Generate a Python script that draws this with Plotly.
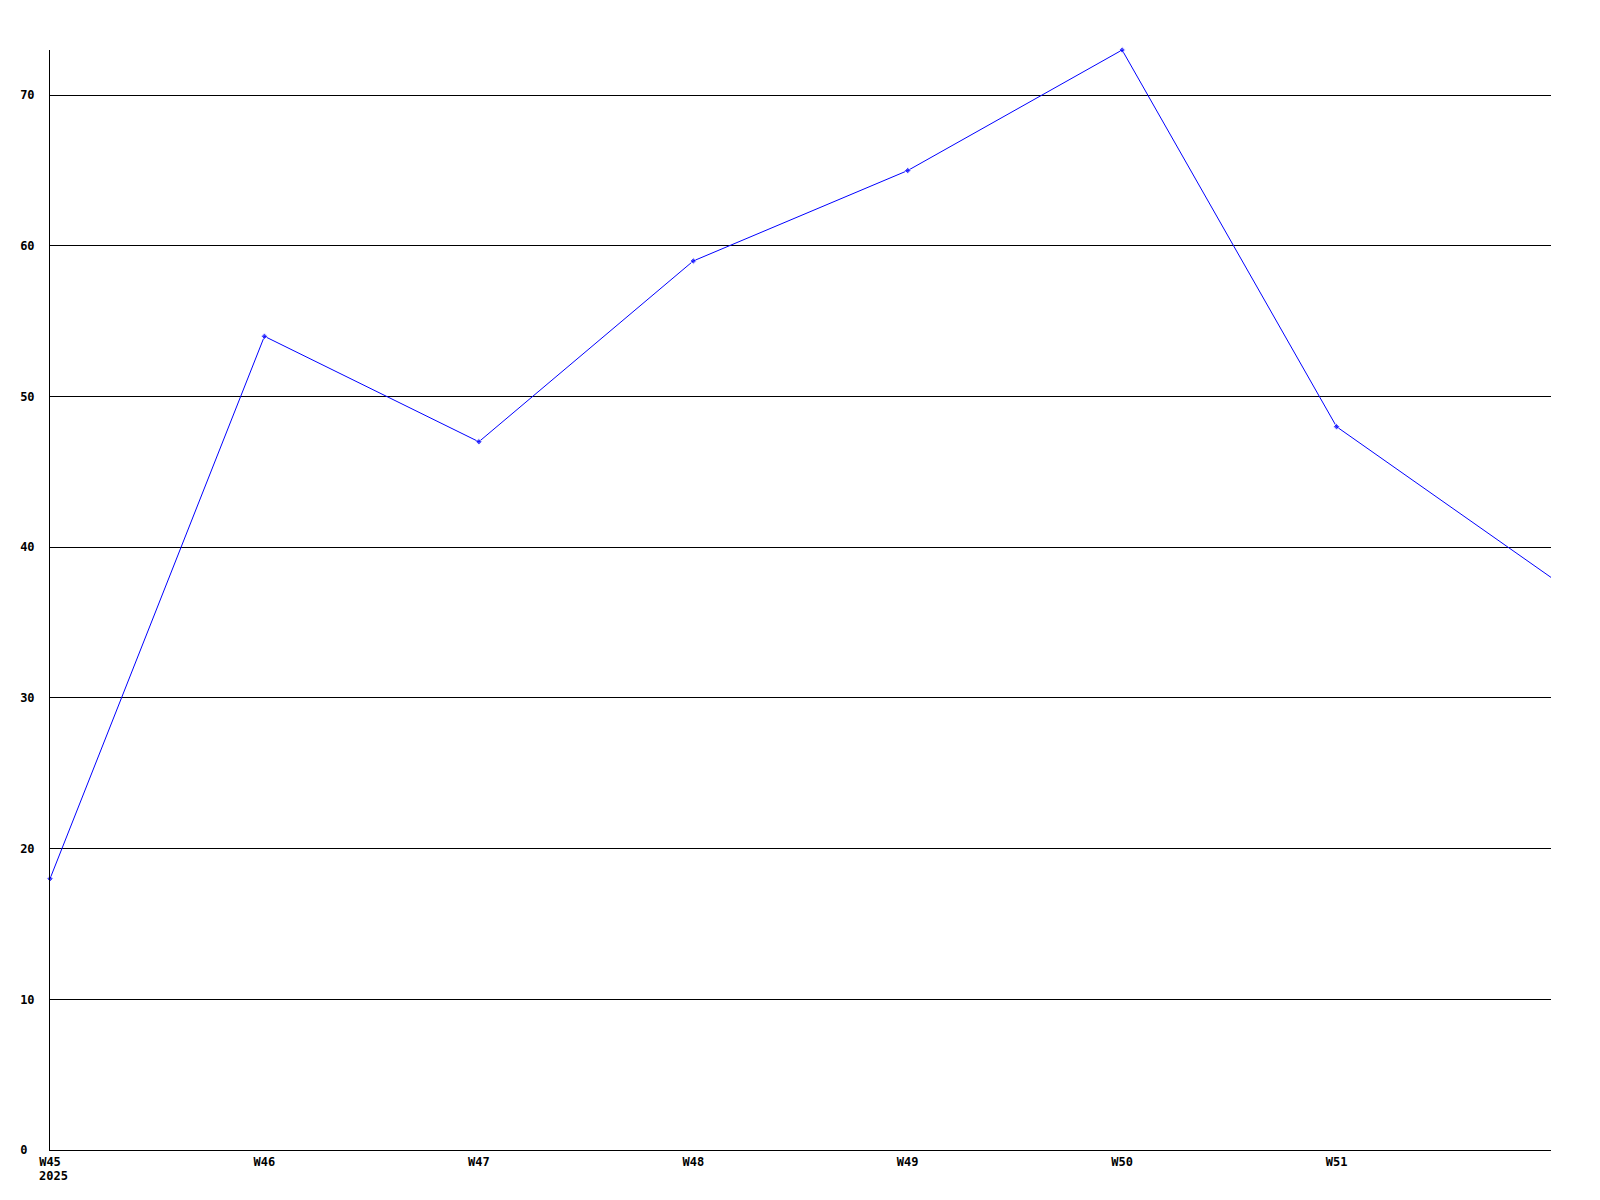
import plotly.graph_objects as go

weeks = ["W45", "W46", "W47", "W48", "W49", "W50", "W51", "W52"]
values = [18, 54, 47, 59, 65, 73, 48, 38]
tick_labels = ["W45", "W46", "W47", "W48", "W49", "W50", "W51"]
year_label = "2025"
y_ticks = [0, 10, 20, 30, 40, 50, 60, 70]

x_pos = list(range(len(weeks)))
# labels on the y axis are left aligned in the original, pad with nbsp (monospace font)
y_labels = [str(v).ljust(2).replace(" ", "\u00a0") for v in y_ticks]

fig = go.Figure()
fig.add_trace(go.Scatter(
    x=x_pos,
    y=values,
    mode="lines+markers",
    line=dict(color="#0000ff", width=1),
    marker=dict(symbol="diamond", size=[5] * (len(weeks) - 1) + [0], color="#0000ff"),
    cliponaxis=False,
    hoverinfo="skip",
    showlegend=False,
))

tick_font = dict(family="DejaVu Sans Mono", size=12, color="black", weight="bold")

fig.update_xaxes(
    range=[0, len(weeks) - 1],
    tickvals=x_pos[:-1],
    ticktext=tick_labels,
    showgrid=False,
    zeroline=False,
    showline=True,
    linecolor="black",
    linewidth=1,
    ticks="",
    ticklabelstandoff=1,
    tickfont=tick_font,
    automargin=False,
)
fig.update_yaxes(
    range=[0, max(values)],
    tickvals=y_ticks,
    ticktext=y_labels,
    showgrid=True,
    gridcolor="black",
    gridwidth=1,
    zeroline=False,
    showline=True,
    linecolor="black",
    linewidth=1,
    ticks="",
    ticklabelstandoff=12,
    tickfont=tick_font,
    automargin=False,
)

# year sits under the first week label, left aligned with it
fig.add_annotation(
    x=x_pos[0], y=0, xref="x", yref="paper",
    text=year_label, showarrow=False,
    xanchor="left", yanchor="middle",
    xshift=-13, yshift=-26,
    font=tick_font,
)

# page body adds 8px, so margins are shifted to keep the plot area at 50..1551 / 50..1150
fig.update_layout(
    width=1600,
    height=1200,
    margin=dict(l=42, r=57, t=42, b=58),
    paper_bgcolor="white",
    plot_bgcolor="white",
)

fig.write_html("out.html")
